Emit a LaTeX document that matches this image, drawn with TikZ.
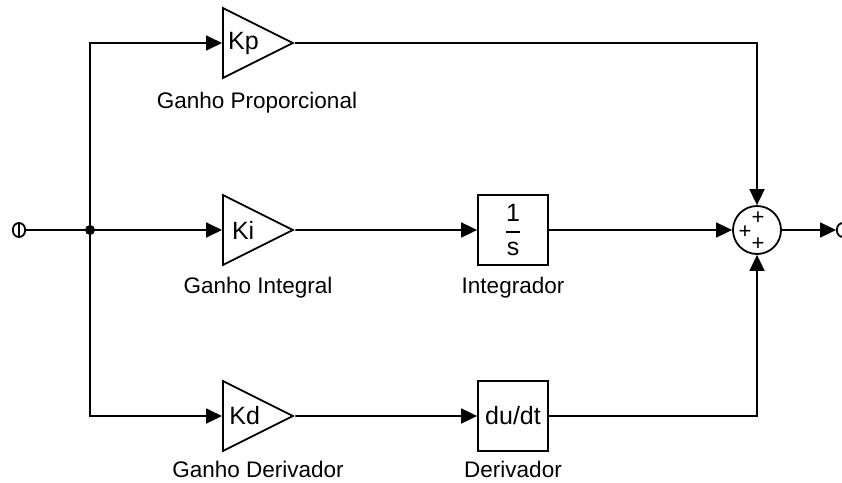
\documentclass[tikz,border=0pt]{standalone}
\usepackage{fontspec}
\setmainfont{Liberation Sans}
\usepackage{amsmath}
\usetikzlibrary{shapes.geometric,arrows.meta}

\begin{document}
\begin{tikzpicture}[x=1pt,y=-1pt,line width=1.8pt,>={Triangle[length=16pt,width=15pt]}]
\path[use as bounding box,clip] (0,0) rectangle (842,482);
% Stile nodi
\tikzstyle{ganho} = [
    isosceles triangle,
    isosceles triangle stretches,
    draw,
    minimum width=70pt,
    minimum height=70pt,
    inner sep=0pt,
    font=\fontsize{25}{28}\selectfont
]

\tikzstyle{bloco} = [
    rectangle,
    draw,
    minimum size=70pt,
    inner sep=0pt,
    font=\fontsize{25}{28}\selectfont
]

\tikzstyle{somador} = [
    circle,
    draw,
    minimum size=48pt,
    inner sep=0pt
]

\tikzstyle{porta} = [
    rectangle,
    rounded corners=6pt,
    draw,
    minimum width=12pt,
    minimum height=14pt,
    inner sep=0pt
]

\tikzstyle{rotulo} = [
    anchor=base,
    inner sep=0pt,
    font=\fontsize{22.5}{26}\selectfont
]

\tikzstyle{sinal} = [
    inner sep=0pt,
    font=\fontsize{22}{24}\selectfont
]

% Nodi
\node[porta] (in) at (19,230) {};
\draw[line width=1.5pt] (in.north) -- (in.south);

\coordinate (j) at (90,230);

\node[ganho, anchor=west] (kp) at (222,43)
{Kp};

\node[ganho, anchor=west] (ki) at (222,230)
{Ki};

\node[ganho, anchor=west] (kd) at (222,416)
{Kd};

\node[bloco] (int) at (513,230)
{$\genfrac{}{}{2pt}{0}{\text{1}}{\text{s}}$};

\node[bloco] (der) at (513,416)
{du/dt};

\node[somador] (sum) at (757,230) {};

\node[sinal] (s1) at (758,218) {+};
\node[sinal] (s2) at (745,232) {+};
\node[sinal] (s3) at (758,244) {+};

\node[porta] (out) at (843,230) {};

\node[rotulo] (l1) at (257,108)
{Ganho Proporcional};

\node[rotulo] (l2) at (258,293)
{Ganho Integral};

\node[rotulo] (l3) at (513,293)
{Integrador};

\node[rotulo] (l4) at (258,477)
{Ganho Derivador};

\node[rotulo] (l5) at (513,477)
{Derivador};

% Archi
\draw (in) -- (j);

\fill (j) circle (5pt);

\draw[->] (j) |- (kp.west);

\draw[->] (j) -- (ki.west);

\draw[->] (j) |- (kd.west);

\draw[->] (kp.east) -| (sum.north);

\draw[->] (ki.east) -- (int.west);

\draw[->] (int.east) -- (sum.west);

\draw[->] (kd.east) -- (der.west);

\draw[->] (der.east) -| (sum.south);

\draw[->] (sum.east) -- (out.west);

\end{tikzpicture}
\end{document}
